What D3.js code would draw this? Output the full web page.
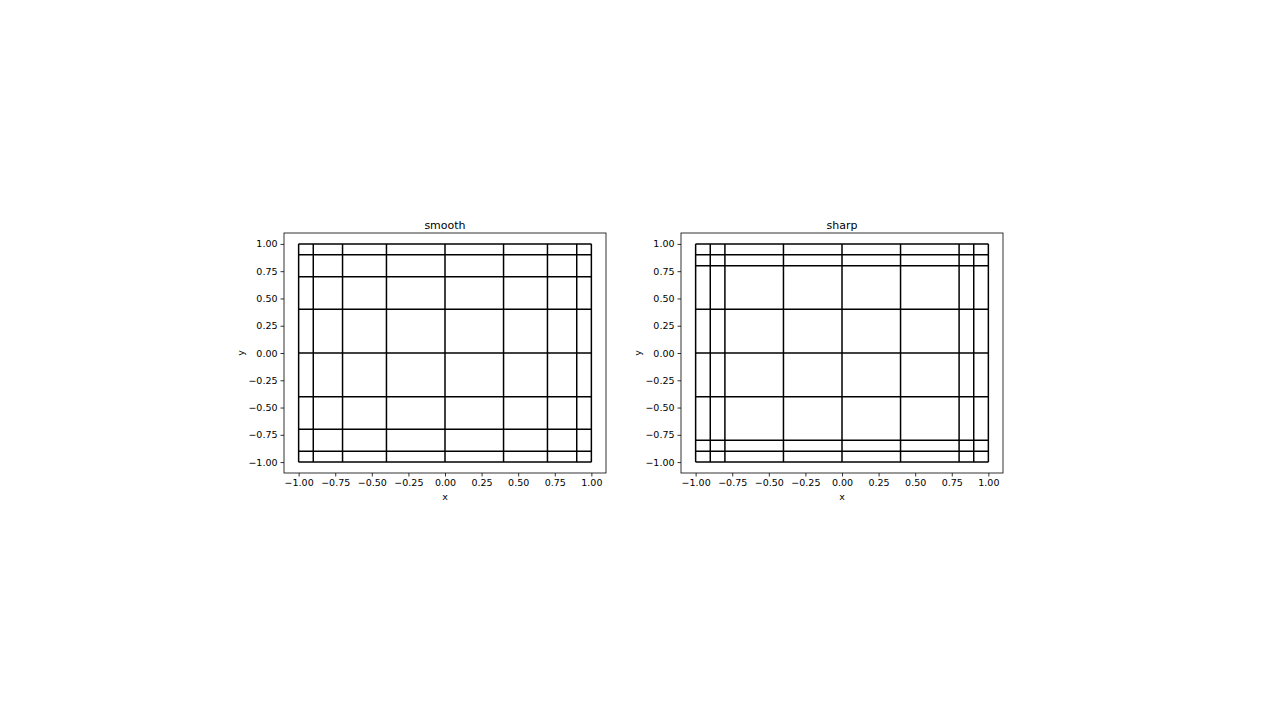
<!DOCTYPE html>
<html>
<head>
<meta charset="utf-8">
<script src="https://cdn.jsdelivr.net/npm/d3@7"></script>
<style>
body { margin: 0; background: #fff; }
svg { display: block; }
text { font-family: "DejaVu Sans", sans-serif; fill: #000; }
</style>
</head>
<body>
<svg id="chart" width="1280" height="720"></svg>
<script>
// Data
const titles = ["smooth", "sharp"];
const smoothX = [-1, -0.9, -0.7, -0.4, 0, 0.4, 0.7, 0.9, 1];
const smoothY = [-1, -0.9, -0.7, -0.4, 0, 0.4, 0.7, 0.9, 1];
const sharpX = [-1, -0.9, -0.8, -0.4, 0, 0.4, 0.8, 0.9, 1];
const sharpY = [-1, -0.9, -0.8, -0.4, 0, 0.4, 0.8, 0.9, 1];
const tickValues = [-1, -0.75, -0.5, -0.25, 0, 0.25, 0.5, 0.75, 1];

const panels = [
  { title: titles[0], xs: smoothX, ys: smoothY, left: 284 },
  { title: titles[1], xs: sharpX, ys: sharpY, left: 681 }
];

const svg = d3.select("#chart");
const W = 322, H = 240, panelTop = 233;

panels.forEach(p => {
  const g = svg.append("g").attr("transform", `translate(${p.left},${panelTop})`);
  const x = d3.scaleLinear().domain([-1.1, 1.1]).range([0, W]);
  const y = d3.scaleLinear().domain([-1.1, 1.1]).range([H, 0]);

  // grid mesh lines
  g.selectAll("line.v").data(p.xs).enter().append("line").attr("class", "v")
    .attr("x1", d => x(d)).attr("x2", d => x(d))
    .attr("y1", y(-1)).attr("y2", y(1))
    .attr("stroke", "#000").attr("stroke-width", 1.5);
  g.selectAll("line.h").data(p.ys).enter().append("line").attr("class", "h")
    .attr("y1", d => y(d)).attr("y2", d => y(d))
    .attr("x1", x(-1)).attr("x2", x(1))
    .attr("stroke", "#000").attr("stroke-width", 1.5);

  // axes
  const fmt = d3.format(".2f");
  const xAxis = d3.axisBottom(x).tickValues(tickValues).tickSize(3.5).tickPadding(3)
    .tickFormat(d => fmt(d).replace("-", "\u2212"));
  const yAxis = d3.axisLeft(y).tickValues(tickValues).tickSize(3.5).tickPadding(3)
    .tickFormat(d => fmt(d).replace("-", "\u2212"));
  const gx = g.append("g").attr("transform", `translate(0,${H})`).call(xAxis);
  const gy = g.append("g").call(yAxis);
  [gx, gy].forEach(a => {
    a.select(".domain").remove();
    a.selectAll(".tick line").attr("stroke", "#000").attr("stroke-width", 0.8);
    a.selectAll(".tick text").style("font-size", "9.5px").style("font-family", "DejaVu Sans");
  });

  // frame
  g.append("rect").attr("x", 0).attr("y", 0).attr("width", W).attr("height", H)
    .attr("fill", "none").attr("stroke", "#000").attr("stroke-width", 0.8);

  // title
  g.append("text").attr("x", W / 2).attr("y", -4.5).attr("text-anchor", "middle")
    .style("font-size", "11px").text(p.title);
  // labels
  g.append("text").attr("x", W / 2).attr("y", H + 27).attr("text-anchor", "middle")
    .style("font-size", "9.5px").text("x");
  g.append("text").attr("transform", `translate(-40,${H / 2}) rotate(-90)`)
    .attr("text-anchor", "middle").style("font-size", "9.5px").text("y");
});
</script>
</body>
</html>
